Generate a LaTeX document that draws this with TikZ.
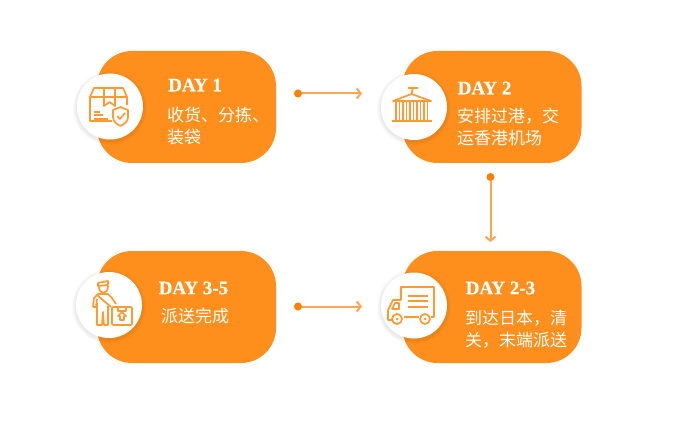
\documentclass[tikz,border=0pt]{standalone}
\usepackage{fontspec}
\setmainfont{Liberation Serif}[BoldFeatures={FakeBold=0.5}]
\newfontfamily\cjk{Noto Sans CJK SC}
\usetikzlibrary{positioning,arrows.meta}
\definecolor{cardorange}{HTML}{FF8F1C}
\definecolor{linkorange}{HTML}{FFA54F}
\definecolor{iconorange}{HTML}{FF9A33}
\definecolor{dotorange}{HTML}{FF7F00}
\tikzset{
  card/.style={fill=cardorange, rounded corners=35pt, minimum width=179pt, minimum height=112pt, inner sep=0pt},
  badge/.style={circle, fill=white, minimum size=66pt, inner sep=0pt},
  badgeshade/.style={circle, fill=black, opacity=0.02, inner sep=0pt},
  daytitle/.style={text=white, font=\fontsize{19}{22}\selectfont\bfseries, anchor=west, inner sep=0pt},
  daytext/.style={text=white, font=\fontsize{17}{22}\cjk, align=left, anchor=north west, inner sep=0pt},
  dot/.style={circle, fill=dotorange, minimum size=8pt, inner sep=0pt},
  link/.style={draw=linkorange, line width=2pt, -{Straight Barb[length=4pt,width=10pt]}},
  icon/.style={draw=iconorange, line width=1.7pt, fill=none, line join=round}
}
\begin{document}
\begin{tikzpicture}[x=1pt, y=-1pt]
\useasboundingbox (0,0) rectangle (693,422);

% cards
\node[card] (card1) at (186.5,107) {};
\node[card] (card2) at (492,107) {};
\node[card] (card3) at (186.5,307) {};
\node[card] (card4) at (492,307) {};

% badges with a soft shadow
\foreach \name/\cx/\cy in {badge1/110/106.5, badge2/414/107, badge3/109/305, badge4/414/305.5} {
  \foreach \s in {74,72,70,68}
    \node[badgeshade, minimum size=\s pt] at (\cx,\cy+1.5) {};
  \node[badge] (\name) at (\cx,\cy) {};
}

% texts
\node[daytitle] (title1) at (168,85) {DAY 1};
\node[daytext] (text1) at (167,107) {收货、分拣、\\装袋};
\node[daytitle] (title2) at (457.5,88) {DAY 2};
\node[daytext] (text2) at (457,108) {安排过港，交\\运香港机场};
\node[daytitle] (title3) at (158.5,288) {DAY 3-5};
\node[daytext] (text3) at (161,308) {派送完成};
\node[daytitle] (title4) at (465.5,288) {DAY 2-3};
\node[daytext] (text4) at (465,310) {到达日本，清\\关，末端派送};

% connections
\node[dot] (dot1) at (298,93.5) {};
\coordinate (end1) at (362,93.5);
\draw[link] (dot1) -- (end1);

\node[dot] (dot2) at (490.5,177) {};
\coordinate (end2) at (490.5,242);
\draw[link] (dot2) -- (end2);

\node[dot] (dot3) at (298,306.5) {};
\coordinate (end3) at (362,306.5);
\draw[link] (dot3) -- (end3);

% icon 1: parcel
\draw[icon] (90,97) -- (94,88) -- (123,88) -- (127,97) -- cycle;
\draw[icon] (90,97) -- (90,121) -- (112,121);
\draw[icon] (127,97) -- (127,105);
\draw[icon] (104,88) -- (104,106) -- (109.5,102) -- (115,106) -- (115,88);
\draw[icon] (94,112) -- (100,112) (94,115) -- (103,115) (94,119) -- (108,119);
\draw[icon] (120.5,107) -- (128,110) -- (128,117) .. controls (128,122) and (124,124) .. (120.5,126) .. controls (117,124) and (113,122) .. (113,117) -- (113,110) -- cycle;
\draw[icon] (117,116) -- (120,119) -- (125,113);

% icon 2: container on a hook
\draw[icon] (408,88) -- (418,88) (413,88) -- (411.5,94);
\draw[icon] (411.5,94) -- (393,101) -- (431,101) -- cycle;
\draw[icon] (392,121) -- (432,121);
\foreach \x in {396,399.5,...,428}
  \draw[draw=iconorange, line width=1.5pt] (\x,102) -- (\x,120);

% icon 3: courier with box
\draw[icon] (98,283) -- (108,281) -- (108,285) -- (98,286) -- cycle;
\draw[icon] (99,287) .. controls (99,295) and (108,295) .. (108,286);
\draw[icon] (93,307) -- (94,298) -- (98,294) -- (108,294) -- (112,298) -- (116,304);
\draw[icon] (97,295) -- (111,307);
\draw[icon] (93,307) -- (96,307) -- (97,299);
\draw[icon] (97,303) -- (97,325) -- (102,325) -- (103,312) -- (104,325) -- (108,325) -- (108,306);
\draw[icon, rounded corners=1pt] (112,307) rectangle (132,325);
\draw[icon] (118,307) -- (118,311) -- (126,311) -- (126,307);
\draw[icon] (122,312) -- (118,316) -- (120,316) -- (120,320) -- (124,320) -- (124,316) -- (126,316) -- cycle;

% icon 4: lorry
\draw[icon] (401,300) -- (401,287) -- (434,287) -- (434,317) -- (431,317);
\draw[icon] (404,317) -- (419,317);
\draw[icon] (408,296) -- (428,296) (408,301) -- (428,301) (408,307) -- (428,307);
\draw[icon] (401,300) -- (393,300) -- (388,310) -- (388,320) -- (392,320);
\draw[icon] (392,309) -- (395,303) -- (399,303) -- (399,309) -- cycle;
\draw[icon] (397,319) circle (5pt) (425,319) circle (5pt);
\fill[iconorange] (397,319) circle (1.5pt) (425,319) circle (1.5pt);
\end{tikzpicture}
\end{document}
